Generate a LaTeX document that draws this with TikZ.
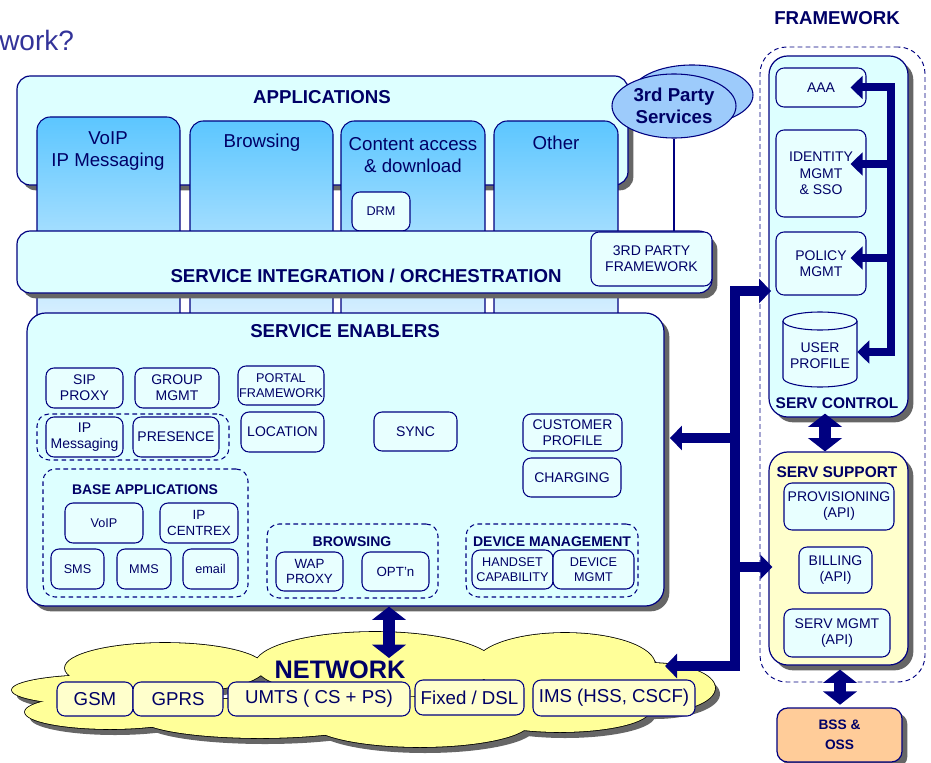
\documentclass[tikz,border=0pt]{standalone}
\usepackage{fontspec}
\setmainfont{Liberation Sans}
\usetikzlibrary{arrows.meta,shapes.geometric,shadows}
\definecolor{navy}{HTML}{000080}
\definecolor{txt}{HTML}{000066}
\definecolor{cyanbg}{HTML}{DDFFFF}
\definecolor{lightbox}{HTML}{E8FFFF}
\definecolor{coltop}{HTML}{5CC6FF}
\definecolor{colbot}{HTML}{E0F2FF}
\definecolor{cloudc}{HTML}{FFFF99}
\definecolor{ybox}{HTML}{FFFFCC}
\definecolor{ellc}{HTML}{9DCBFB}
\definecolor{peach}{HTML}{FFCC99}
\definecolor{shadowc}{HTML}{666666}
\definecolor{titlec}{HTML}{333399}
\newcommand{\myfA}{\fontsize{14}{16.5}\selectfont}
\newcommand{\myfB}{\fontsize{10.5}{12}\selectfont}
\newcommand{\myfC}{\fontsize{9.5}{11.2}\selectfont}
\newcommand{\mybox}[7]{\node[#1,minimum width={(#4-#2)*0.75pt},minimum height={(#5-#3)*0.75pt}] (#6) at ({(#2+#4)/2},{(#3+#5)/2}) {#7};}
\begin{document}
\begin{tikzpicture}[x=0.75pt,y=-0.75pt,
  shd/.style={drop shadow={shadow xshift=4pt,shadow yshift=-4pt,fill=shadowc,opacity=1}},
  big/.style={draw=navy,line width=0.9pt,fill=cyanbg,rounded corners=10pt,inner sep=0pt,shd},
  box/.style={draw=navy,line width=0.8pt,fill=lightbox,rounded corners=6pt,inner sep=0pt,align=center,text=txt,font=\myfB},
  col/.style={draw=navy,line width=0.8pt,rounded corners=10pt,top color=coltop,bottom color=colbot,inner sep=0pt},
  grp/.style={draw=navy,line width=0.8pt,dash pattern=on 3.5pt off 2.5pt,rounded corners=9pt,inner sep=0pt},
  hdr/.style={font=\bfseries\myfA,text=txt,inner sep=0pt,align=center},
  sub/.style={font=\bfseries\myfB,text=txt,inner sep=0pt,align=center},
  ctext/.style={font=\myfA,text=txt,inner sep=0pt,align=center},
  ell/.style={ellipse,draw=navy,line width=0.8pt,fill=ellc,inner sep=0pt,align=center,text=txt},
  thinline/.style={draw=navy,line width=0.8pt},
  busS/.style={draw=navy,line width=6pt,line join=miter},
  busM/.style={draw=navy,line width=6.8pt,line join=miter},
  tipS/.tip={Triangle[width=17pt,length=9pt]},
  tipM/.tip={Triangle[width=18pt,length=9pt]},
  tipF/.tip={Triangle[width=25pt,length=10pt]},
  fat/.style={draw=navy,line width=9.5pt,tipF-tipF}
]
\useasboundingbox (0,0) rectangle (931,763);

% title fragment
\node[anchor=base west,font=\fontsize{21}{25}\selectfont,text=titlec,inner sep=0pt] (ttl) at (-1,51) {work?};

% APPLICATIONS
\mybox{big}{17}{76}{628}{185}{apps}{}
\node[hdr] (appsT) at (322,97) {APPLICATIONS};

% 3rd party services
\node[ell,minimum width={122*0.75pt},minimum height={60*0.75pt}] (tpsb) at (692,95) {};
\node[ell,minimum width={124*0.75pt},minimum height={64*0.75pt},font=\bfseries\myfA] (tps) at (674,106) {3rd Party\\Services};

% columns
\mybox{col}{37}{117}{180}{330}{c1}{}
\mybox{col}{190}{121}{333}{330}{c2}{}
\mybox{col}{341}{121}{485}{330}{c3}{}
\mybox{col}{494}{121}{618}{330}{c4}{}
\node[ctext] (t1) at (108,151) {VoIP\\IP Messaging};
\node[ctext] (t2) at (262,143) {Browsing};
\node[ctext] (t3) at (413,155) {Content access\\\& download};
\node[ctext] (t4) at (556,143) {Other};
\mybox{box,font=\myfC}{352}{192}{410}{231}{drm}{DRM}

% SERVICE INTEGRATION
\mybox{big}{17}{231}{712}{293}{si}{}
\node[hdr] (siT) at (366,276) {SERVICE INTEGRATION / ORCHESTRATION};
\mybox{box}{591}{232}{712}{286}{tpf}{3RD PARTY\\FRAMEWORK}
\draw[thinline] (tps.south) -- (tps.south |- tpf.north);

% SERVICE ENABLERS
\mybox{big,rounded corners=14pt}{27}{313}{664}{606}{se}{}
\node[hdr] (seT) at (345,331) {SERVICE ENABLERS};

\mybox{grp}{37}{414}{229}{460}{gip}{}
\mybox{grp}{43}{469}{248}{597}{gbase}{}
\node[sub] (gbaseT) at (145,490) {BASE APPLICATIONS};
\mybox{grp}{267}{524}{438}{598}{gbrow}{}
\node[sub] (gbrowT) at (352,542) {BROWSING};
\mybox{grp}{466}{524}{638}{597}{gdev}{}
\node[sub] (gdevT) at (552,542) {DEVICE MANAGEMENT};

\mybox{box}{46}{368}{123}{408}{sip}{SIP\\PROXY}
\mybox{box}{135}{368}{219}{408}{grpm}{GROUP\\MGMT}
\mybox{box,font=\myfC}{238}{366}{324}{405}{portal}{PORTAL\\FRAMEWORK}
\mybox{box}{46}{417}{123}{457}{ipm}{IP\\Messaging}
\mybox{box}{133}{417}{219}{457}{pres}{PRESENCE}
\mybox{box}{241}{412}{324}{452}{loc}{LOCATION}
\mybox{box}{374}{412}{457}{451}{sync}{SYNC}
\mybox{box}{523}{414}{622}{451}{cust}{CUSTOMER\\PROFILE}
\mybox{box}{523}{458}{621}{497}{charg}{CHARGING}
\mybox{box,font=\myfC}{65}{503}{143}{543}{voip}{VoIP}
\mybox{box,font=\fontsize{10}{11.5}\selectfont}{160}{503}{238}{543}{ipc}{IP\\CENTREX}
\mybox{box,font=\myfC}{51}{549}{104}{589}{sms}{SMS}
\mybox{box,font=\myfC}{117}{549}{171}{589}{mms}{MMS}
\mybox{box,font=\myfC}{183}{549}{238}{589}{email}{email}
\mybox{box,font=\fontsize{10}{11.5}\selectfont}{276}{552}{343}{591}{wap}{WAP\\PROXY}
\mybox{box,font=\fontsize{10}{11.5}\selectfont}{362}{552}{429}{591}{opt}{OPT'n}
\mybox{box,font=\myfC}{472}{550}{553}{589}{hand}{HANDSET\\CAPABILITY}
\mybox{box,font=\myfC}{553}{550}{634}{589}{devm}{DEVICE\\MGMT}

% NETWORK cloud
\foreach \cx/\cy/\rx/\ry in {100/690/88/15,110/712/85/17,165/668/100/25,375/665/120/33,565/665/90/32,650/688/65/25,260/718/120/20,420/722/110/25,560/710/90/22}
  \fill[shadowc] ({\cx+5},{\cy+6}) ellipse [x radius=\rx, y radius=\ry];
\foreach \cx/\cy/\rx/\ry in {100/690/88/15,110/712/85/17,165/668/100/25,375/665/120/33,565/665/90/32,650/688/65/25,260/718/120/20,420/722/110/25,560/710/90/22}
  \draw[black,line width=1.2pt,fill=cloudc] (\cx,\cy) ellipse [x radius=\rx, y radius=\ry];
\foreach \cx/\cy/\rx/\ry in {100/690/88/15,110/712/85/17,165/668/100/25,375/665/120/33,565/665/90/32,650/688/65/25,260/718/120/20,420/722/110/25,560/710/90/22}
  \fill[cloudc] (\cx,\cy) ellipse [x radius=\rx, y radius=\ry];
\node[font=\bfseries\fontsize{19}{22}\selectfont,text=txt,inner sep=0pt] (net) at (340,670) {NETWORK};
\mybox{box,fill=ybox,font=\myfA}{57}{682}{133}{716}{gsm}{GSM}
\mybox{box,fill=ybox,font=\myfA}{133}{682}{223}{716}{gprs}{GPRS}
\mybox{box,fill=ybox,font=\myfA}{228}{682}{410}{716}{umts}{UMTS ( CS + PS)}
\mybox{box,fill=ybox,font=\myfA}{415}{680}{524}{715}{fixed}{Fixed / DSL}
\mybox{box,fill=ybox,font=\myfA}{533}{680}{695}{716}{ims}{IMS (HSS, CSCF)}

% FRAMEWORK column
\node[hdr] (fwT) at (837,18) {FRAMEWORK};
\mybox{grp,rounded corners=20pt,line width=0.7pt}{760}{47}{925}{682}{fw}{}
\mybox{big,rounded corners=14pt}{769}{56}{908}{417}{sctrl}{}
\node[sub,font=\bfseries\fontsize{11.6}{13}\selectfont] (sctrlT) at (837,403) {SERV CONTROL};
\mybox{box}{776}{68}{866}{107}{aaa}{AAA}
\mybox{box,font=\fontsize{10.5}{12.4}\selectfont}{776}{130}{866}{217}{ident}{IDENTITY\\MGMT\\\& SSO}
\mybox{box,font=\fontsize{10.5}{12.4}\selectfont}{776}{232}{866}{295}{policy}{POLICY\\MGMT}
\draw[navy,line width=0.8pt,fill=lightbox] (783,321) -- (783,378) arc [start angle=180, end angle=0, x radius=37, y radius=9] -- (857,321);
\draw[navy,line width=0.8pt,fill=lightbox] (820,321) ellipse [x radius=37, y radius=9];
\node[inner sep=0pt,align=center,text=txt,font=\fontsize{10.5}{12.4}\selectfont,minimum width={74*0.75pt}] (up) at (820,355.5) {USER\\PROFILE};

\mybox{big,fill=ybox,rounded corners=14pt}{769}{452}{908}{665}{ssup}{}
\node[sub,font=\bfseries\fontsize{11.6}{13}\selectfont] (ssupT) at (837,472) {SERV SUPPORT};
\mybox{box}{784}{483}{894}{530}{prov}{PROVISIONING\\(API)}
\mybox{box}{799}{547}{872}{593}{bill}{BILLING\\(API)}
\mybox{box}{784}{609}{890}{657}{smgmt}{SERV MGMT\\(API)}

\mybox{big,fill=peach,rounded corners=8pt,align=center,text=txt,font=\bfseries\fontsize{10.3}{15}\selectfont}{777}{708}{902}{762}{bss}{BSS \&\\OSS}

% serv control internal bus
\coordinate (sbT) at (891,87.5);
\coordinate (sbB) at (891,352);
\coordinate (sb2) at (891,164);
\coordinate (sb3) at (891,258);
\draw[busS,tipS-tipS,shorten <=-12pt] (aaa.east |- sbT) -- (sbT) -- (sbB) -- (up.east |- sbB);
\draw[busS,-tipS,shorten >=-12pt] (sb2) -- (ident.east |- sb2);
\draw[busS,-tipS,shorten >=-12pt] (sb3) -- (policy.east |- sb3);

% main bus
\coordinate (mT) at (735,291);
\coordinate (mB) at (735,666);
\coordinate (mSE) at (735,438);
\coordinate (mSS) at (735,567);
\coordinate (cloudE) at (665,666);
\draw[busM,tipM-tipM,shorten <=-2pt] (sctrl.west |- mT) -- (mT) -- (mB) -- (cloudE);
\draw[busM,-tipM,shorten >=4pt] (mSE) -- (se.east |- mSE);
\draw[busM,-tipM,shorten >=-3pt] (mSS) -- (ssup.west |- mSS);

% fat double arrows
\coordinate (fx1) at (825,0);
\coordinate (fx2) at (840,0);
\coordinate (fx3) at (389,0);
\coordinate (netTop) at (389,658);
\draw[fat,shorten <=-3pt] (sctrl.south -| fx1) -- (ssup.north -| fx1);
\draw[fat,shorten <=3pt,shorten >=2pt] (ssup.south -| fx2) -- (bss.north -| fx2);
\draw[fat] (se.south -| fx3) -- (netTop);
\end{tikzpicture}
\end{document}
